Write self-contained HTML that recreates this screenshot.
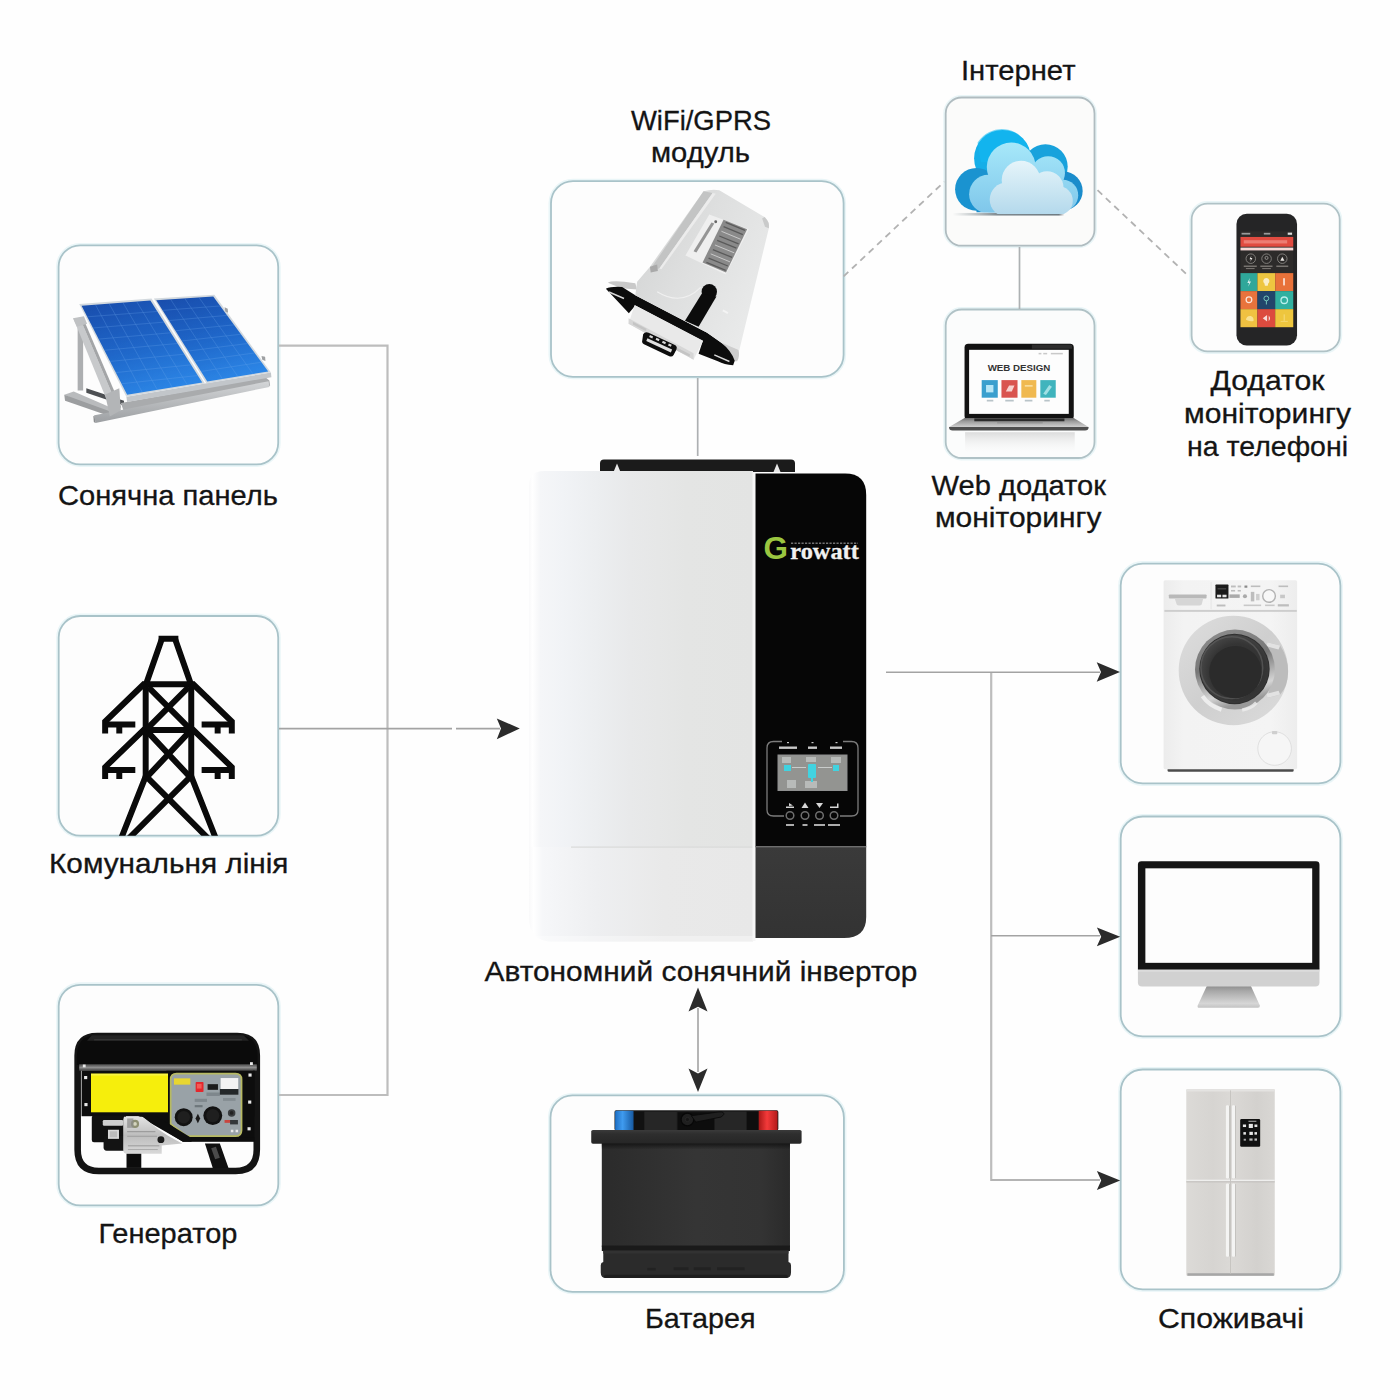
<!DOCTYPE html>
<html><head><meta charset="utf-8">
<style>
html,body{margin:0;padding:0;background:#fefefe;}
body{width:1400px;height:1400px;position:relative;overflow:hidden;font-family:"Liberation Sans",sans-serif;}
svg{position:absolute;left:0;top:0;}
.t{position:absolute;font-size:27px;line-height:33px;color:#111;text-align:center;white-space:nowrap;transform:translateX(-50%);letter-spacing:0.2px;}
</style></head><body>
<svg id="main" width="1400" height="1400" viewBox="0 0 1400 1400">
<defs>
</defs>
<!-- BOXES -->
<g id="boxglow" fill="none" stroke="#d9eff3" stroke-width="5" opacity="0.55">
<rect x="58.600" y="245.400" width="219.600" height="219" rx="21.500"/>
<rect x="58.700" y="616" width="219.500" height="219.600" rx="21.500"/>
<rect x="58.700" y="984.800" width="219.600" height="220.600" rx="21.500"/>
<rect x="551" y="181.200" width="292.600" height="195.600" rx="22"/>
<rect x="550.500" y="1095.400" width="293.400" height="196.400" rx="22"/>
<rect x="945.700" y="97.500" width="148.800" height="148.200" rx="16"/>
<rect x="945.700" y="309.500" width="148.800" height="148.500" rx="16"/>
<rect x="1191.600" y="203.600" width="148.100" height="147.800" rx="16"/>
<rect x="1120.700" y="563.600" width="219.700" height="219.800" rx="22"/>
<rect x="1120.700" y="816.500" width="219.700" height="219.800" rx="22"/>
<rect x="1120.700" y="1069.500" width="219.700" height="219.800" rx="22"/>
</g>
<g id="boxes" fill="#fdfdfd" stroke="#a9c3c9" stroke-width="1.800">
<rect x="58.600" y="245.400" width="219.600" height="219" rx="21.500"/>
<rect x="58.700" y="616" width="219.500" height="219.600" rx="21.500"/>
<rect x="58.700" y="984.800" width="219.600" height="220.600" rx="21.500"/>
<rect x="551" y="181.200" width="292.600" height="195.600" rx="22"/>
<rect x="550.500" y="1095.400" width="293.400" height="196.400" rx="22"/>
<rect x="945.700" y="97.500" width="148.800" height="148.200" rx="16" fill="#fbfbfa" stroke="#b0bcc0"/>
<rect x="945.700" y="309.500" width="148.800" height="148.500" rx="16" fill="#fbfcfc" stroke="#b0c2c6"/>
<rect x="1191.600" y="203.600" width="148.100" height="147.800" rx="16" stroke="#b0c2c6"/>
<rect x="1120.700" y="563.600" width="219.700" height="219.800" rx="22"/>
<rect x="1120.700" y="816.500" width="219.700" height="219.800" rx="22"/>
<rect x="1120.700" y="1069.500" width="219.700" height="219.800" rx="22"/>
</g>
<!-- LINES -->
<g id="lines" fill="none" stroke="#bdbdbd" stroke-width="2.200">
<path d="M279 345.700H387.500V1095H279"/>
<path d="M697.700 378V456" stroke="#adb0b2" stroke-width="1.700"/>
<path d="M1019.500 247V309" stroke="#adb1b3" stroke-width="1.700"/>
<path d="M991.200 672V1181"/>
</g>
<g id="lines2" fill="none" stroke="#a3a3a3" stroke-width="1.600">
<path d="M279 728.600H452 M456 728.600H500"/>
<path d="M886 672.300H1100"/>
<path d="M991 1180.100H1100" stroke="#b4b4b4" stroke-width="2"/>
<path d="M991 935.800H1100"/>
<path d="M698 1008V1072"/>
<path d="M843.600 276.400L944.300 181.700" stroke-dasharray="6.500 5" stroke="#b2b2b2" stroke-width="1.800"/>
<path d="M1097.500 190.200L1189.500 277" stroke-dasharray="6.500 5" stroke="#b2b2b2" stroke-width="1.800"/>
</g>
<g id="arrows" fill="#2b2b2b">
<path d="M519.800 728.600L496.800 718.400L501 728.600L496.800 739.200Z"/>
<path d="M1120 672.100L1096.700 662.200L1101 672.100L1096.700 681.700Z"/>
<path d="M1120.200 936.800L1096.900 927.600L1101.200 936.800L1096.900 946.200Z"/>
<path d="M1120.200 1180.400L1096.900 1171L1101.200 1180.400L1096.900 1190Z"/>
<path d="M698 987.500L688.500 1011.500L698 1006.800L707.500 1011.500Z"/>
<path d="M698 1092L688.500 1068.500L698 1073.400L707.500 1068.500Z"/>
</g>
<!-- ICONS-START -->
<g id="inverter">
<defs>
<linearGradient id="invW" x1="0" x2="1" y1="0" y2="0">
<stop offset="0" stop-color="#f9f9fa"/><stop offset="0.015" stop-color="#ffffff"/><stop offset="0.05" stop-color="#f5f6f8"/><stop offset="0.15" stop-color="#f1f3f6"/><stop offset="0.3" stop-color="#eceef0"/><stop offset="0.45" stop-color="#e8e9ea"/><stop offset="0.7" stop-color="#e4e5e4"/><stop offset="1" stop-color="#e3e4e3"/>
</linearGradient>
<linearGradient id="invW2" x1="0" x2="1" y1="0" y2="0">
<stop offset="0" stop-color="#f9f9fa"/><stop offset="0.02" stop-color="#ffffff"/><stop offset="0.06" stop-color="#f6f7f9"/><stop offset="0.3" stop-color="#eeeff1"/><stop offset="0.6" stop-color="#e9e9e9"/><stop offset="1" stop-color="#e8e8e8"/>
</linearGradient>
<linearGradient id="invG" x1="0" x2="0" y1="0" y2="1">
<stop offset="0" stop-color="#3a3a3a"/><stop offset="1" stop-color="#333"/>
</linearGradient>
<clipPath id="invWc"><path d="M544 471H753V941.500H553Q529 941.500 529 917.500V486Q529 471 544 471Z"/></clipPath>
</defs>
<!-- bracket -->
<path d="M604 459.500H791Q795 459.500 795 463.500V472H600V463.500Q600 459.500 604 459.500Z" fill="#1b1b1b"/>
<path d="M613.500 472L617 463.500L620.500 472Z M773.500 472L777 463.500L780.500 472Z" fill="#e9e9e9"/>
<!-- white body -->
<g clip-path="url(#invWc)">
<rect x="529" y="471" width="225" height="376" fill="url(#invW)"/>
<rect x="529" y="847" width="225" height="96" fill="url(#invW2)"/>
<rect x="571" y="846.500" width="182" height="1.200" fill="#d9dad9"/>
<rect x="529" y="936" width="225" height="6" fill="#fff" opacity="0.35"/>
</g>
<rect x="752.500" y="472" width="3" height="469" fill="#f6f6f6"/>
<!-- black panel -->
<path d="M755.500 473.500H845Q866.200 473.500 866.200 495V847H755.500Z" fill="#060606"/>
<path d="M755.500 847H866.200V917Q866.200 938 844 938H755.500Z" fill="url(#invG)"/>
<rect x="755.500" y="846" width="110.700" height="1.400" fill="#6d6d6d"/>
<!-- logo -->
<text x="763.600" y="558.800" font-family="Liberation Sans, sans-serif" font-weight="bold" font-size="31.500" fill="#9bc640" textLength="24.500" lengthAdjust="spacingAndGlyphs">G</text>
<text x="790.300" y="558.600" font-family="Liberation Serif, serif" font-weight="bold" font-size="23.500" fill="#f1f1f1" stroke="#f1f1f1" stroke-width="0.300" textLength="68.500" lengthAdjust="spacingAndGlyphs">rowatt</text>
<path d="M791 543.300H858" stroke="#8d8d8d" stroke-width="1.600" stroke-dasharray="2.200 1.300" opacity="0.8" fill="none"/>
<!-- LCD frame -->
<g fill="none" stroke="#7c7c7c" stroke-width="1.300">
<path d="M782 741.500H773.500Q767 741.500 767 748V810Q767 816 773.500 816H784"/>
<path d="M843 741.500H851.500Q858 741.500 858 748V810Q858 816 851.500 816H840"/>
</g>
<rect x="777.500" y="754.500" width="70" height="36.500" fill="#8f9090"/>
<rect x="778.500" y="755.500" width="68" height="34.500" fill="#939491"/>
<g fill="#c9cccb" opacity="0.7">
<rect x="782" y="757" width="9" height="6"/><rect x="806" y="757" width="10" height="5"/><rect x="831" y="757" width="10" height="6"/>
<rect x="787" y="780" width="9" height="8"/><rect x="805" y="781" width="12" height="7"/>
</g>
<g fill="#41d3e0">
<rect x="808" y="764" width="8" height="14" rx="1"/><rect x="784" y="765" width="7" height="6"/><rect x="833" y="765" width="6" height="6"/><rect x="811" y="778" width="2" height="4"/>
</g>
<rect x="792" y="767" width="14" height="1" fill="#c9cccb"/><rect x="818" y="767" width="14" height="1" fill="#c9cccb"/>
<!-- top labels -->
<g fill="#c8c8c8"><rect x="779" y="746.500" width="18" height="2.400"/><rect x="808" y="746.500" width="9" height="2.400"/><rect x="830" y="746.500" width="12" height="2.400"/>
<rect x="787" y="742" width="2" height="1.200"/><rect x="811.500" y="742" width="2" height="1.200"/><rect x="835.500" y="742" width="2" height="1.200"/></g>
<!-- buttons -->
<g fill="none" stroke="#6e6e6e" stroke-width="1.500">
<circle cx="790" cy="815.500" r="3.800"/><circle cx="805" cy="815.500" r="3.800"/><circle cx="819.500" cy="815.500" r="3.800"/><circle cx="834" cy="815.500" r="3.800"/>
</g>
<g fill="#d6d6d6">
<path d="M786 806.500H794V808H786Z M789 803L793 805.500L789 806Z"/>
<path d="M805 802.500L808.500 808H801.500Z"/>
<path d="M819.500 808L816 803H823Z"/>
<path d="M830 806.500H837V803.500H838.500V808H830Z"/>
<rect x="786" y="824" width="8" height="2" opacity="0.8"/><rect x="802.500" y="824" width="5" height="2" opacity="0.8"/><rect x="814" y="824" width="11" height="2" opacity="0.8"/><rect x="828" y="824" width="12" height="2" opacity="0.8"/>
</g>
</g>
<g id="pylon">
<defs><clipPath id="pyc"><rect x="59.500" y="617.500" width="218" height="218.300" rx="23"/></clipPath></defs>
<g clip-path="url(#pyc)">
<g transform="translate(58,616) scale(0.15714)" fill="none" stroke="#0a0a0a" stroke-width="38" stroke-linejoin="miter" stroke-linecap="butt">
<path d="M640 145H766"/>
<path d="M663 140L560 435 M743 140L846 435"/>
<path d="M540 435H866 M540 725H866"/>
<path d="M558 435V1035 M848 435V1035"/>
<path d="M575 452L840 718 M831 452L566 718"/>
<path d="M575 742L840 1025 M831 742L566 1025"/>
<path d="M558 1020L400 1420 M848 1020L1006 1420"/>
<path d="M566 1025L960 1420 M840 1025L446 1420"/>
<path d="M552 428L300 672V748 M854 428L1106 672V748"/>
<path d="M552 718L300 962V1038 M854 718L1106 962V1038"/>
<path d="M300 690H492 M390 690V748 M1106 690H914 M1016 690V748"/>
<path d="M300 980H492 M390 980V1038 M1106 980H914 M1016 980V1038"/>
</g></g></g>
<g id="battery" transform="translate(550,1095) scale(0.21143)">
<defs>
<linearGradient id="btB" x1="0" x2="1"><stop offset="0" stop-color="#2b2b2b"/><stop offset="0.5" stop-color="#353535"/><stop offset="0.85" stop-color="#333"/><stop offset="1" stop-color="#2a2a2a"/></linearGradient>
<linearGradient id="btBlue" x1="0" x2="1"><stop offset="0" stop-color="#1d6fc4"/><stop offset="0.4" stop-color="#3f9bef"/><stop offset="1" stop-color="#16589f"/></linearGradient>
<linearGradient id="btRed" x1="0" x2="1"><stop offset="0" stop-color="#a81616"/><stop offset="0.45" stop-color="#f33a3a"/><stop offset="1" stop-color="#b41a1a"/></linearGradient>
<linearGradient id="btLid" x1="0" x2="0" y1="0" y2="1"><stop offset="0" stop-color="#3b3b3b"/><stop offset="0.3" stop-color="#2e2e2e"/><stop offset="1" stop-color="#262626"/></linearGradient>
<linearGradient id="btSh" x1="0" x2="0" y1="0" y2="1"><stop offset="0" stop-color="#151515"/><stop offset="1" stop-color="#151515" stop-opacity="0"/></linearGradient>
</defs>
<rect x="305" y="72" width="775" height="96" rx="8" fill="#1c1c1c"/>
<rect x="400" y="80" width="200" height="88" fill="#262626"/><rect x="780" y="80" width="200" height="88" fill="#262626"/>
<rect x="308" y="74" width="88" height="94" rx="6" fill="url(#btBlue)"/>
<rect x="986" y="74" width="90" height="94" rx="6" fill="url(#btRed)"/>
<rect x="396" y="78" width="50" height="90" fill="#111"/><rect x="930" y="78" width="56" height="90" fill="#0e0e0e"/>
<rect x="604" y="82" width="172" height="86" fill="#0d0d0d"/>
<circle cx="650" cy="116" r="30" fill="#1f1f1f" stroke="#070707" stroke-width="6"/>
<circle cx="650" cy="116" r="10" fill="#161616" stroke="#2d2d2d" stroke-width="3"/>
<path d="M668 98L800 80Q825 78 822 92L810 104L690 128Z" fill="#1f1f1f" stroke="#090909" stroke-width="4"/>
<path d="M203 165H1182Q1190 165 1190 173V222Q1190 230 1182 230H203Q195 230 195 222V173Q195 165 203 165Z" fill="url(#btLid)"/>
<rect x="245" y="228" width="890" height="490" fill="url(#btB)"/>
<rect x="245" y="228" width="890" height="30" fill="url(#btSh)"/>
<rect x="245" y="712" width="890" height="26" fill="#1a1a1a"/>
<path d="M252 736H1128V790Q1140 792 1140 805V840Q1140 866 1115 866H265Q240 866 240 840V805Q240 792 252 790Z" fill="#2b2b2b"/>
<rect x="252" y="736" width="876" height="14" fill="#323232"/>
<rect x="255" y="850" width="870" height="16" rx="8" fill="#1e1e1e"/>
<g fill="#222"><rect x="460" y="818" width="40" height="12"/><rect x="585" y="815" width="70" height="14"/><rect x="680" y="815" width="80" height="14"/><rect x="790" y="815" width="130" height="14"/></g>
</g>
<g id="generator" transform="translate(58,1010) scale(0.15714)">
<defs>
<linearGradient id="gnS" x1="0" x2="0" y1="0" y2="1"><stop offset="0" stop-color="#4a4a4a"/><stop offset="0.5" stop-color="#8e8e8e"/><stop offset="1" stop-color="#3f3f3f"/></linearGradient>
<linearGradient id="gnE" x1="0" x2="0" y1="0" y2="1"><stop offset="0" stop-color="#e3e3e3"/><stop offset="0.5" stop-color="#bdbdbd"/><stop offset="1" stop-color="#d8d8d8"/></linearGradient>
</defs>
<!-- frame outer -->
<path d="M250 165H1140Q1265 165 1265 290V890Q1265 1025 1130 1025H260Q125 1025 125 890V290Q125 165 250 165Z" fill="none" stroke="#141414" stroke-width="42"/>
<!-- tank -->
<path d="M240 160H1150Q1270 160 1270 300V350H120V300Q120 160 240 160Z" fill="#0b0b0b"/>
<path d="M215 160H1180L1215 195H185Z" fill="#232323"/>
<rect x="230" y="186" width="940" height="7" fill="#3a3a3a"/>
<!-- silver bar -->
<rect x="135" y="345" width="1130" height="42" fill="url(#gnS)"/>
<!-- body black -->
<rect x="150" y="386" width="1100" height="290" fill="#0d0d0d"/>
<path d="M690 386H1250V835H830L690 690Z" fill="#0d0d0d"/>
<path d="M500 668H722V730L830 812H1250V838H795Z" fill="#0d0d0d"/>
<!-- yellow -->
<rect x="210" y="405" width="490" height="246" fill="#f6ee0c"/>
<rect x="210" y="405" width="490" height="12" fill="#fbf65a" opacity="0.7"/>
<!-- control panel -->
<path d="M755 405H1130Q1168 405 1168 443V765Q1168 803 1130 803H820L717 725V443Q717 405 755 405Z" fill="#99a2a7" stroke="#b7ba62" stroke-width="11"/>
<rect x="738" y="435" width="104" height="40" fill="#e8d630"/>
<rect x="876" y="458" width="50" height="64" rx="5" fill="#e5272c"/><rect x="884" y="470" width="30" height="30" fill="#f45a55"/>
<rect x="952" y="472" width="66" height="36" fill="#1c1c1c"/>
<rect x="945" y="525" width="85" height="22" fill="#7e878c"/>
<rect x="1035" y="433" width="112" height="70" fill="#f3f3f3"/><rect x="1030" y="503" width="118" height="36" fill="#24282a"/>
<rect x="1050" y="560" width="80" height="18" fill="#838c91"/>
<rect x="870" y="565" width="78" height="20" fill="#7f888d"/><rect x="870" y="605" width="50" height="14" fill="#6e777c"/>
<circle cx="800" cy="682" r="57" fill="#121212"/><circle cx="800" cy="682" r="40" fill="#1f1f1f"/>
<circle cx="985" cy="672" r="60" fill="#121212"/><circle cx="985" cy="672" r="42" fill="#1f1f1f"/>
<path d="M890 660L905 690L890 720L875 690Z" fill="#1a1a1a"/>
<circle cx="1105" cy="655" r="24" fill="#3a3d3f"/><circle cx="1105" cy="655" r="12" fill="#222"/>
<rect x="1060" y="700" width="40" height="18" fill="#c8453f"/><rect x="1095" y="700" width="50" height="28" fill="#33373a"/>
<rect x="1100" y="762" width="16" height="16" fill="#e8e8e8"/><rect x="1130" y="762" width="16" height="16" fill="#e8e8e8"/>
<!-- engine -->
<rect x="215" y="672" width="220" height="170" rx="14" fill="#111"/>
<rect x="290" y="800" width="150" height="95" rx="20" fill="#131313"/>
<rect x="285" y="700" width="130" height="36" rx="8" fill="#cfcfcf"/>
<rect x="318" y="762" width="70" height="58" fill="#d9d9d9"/><rect x="330" y="772" width="46" height="38" fill="#bcbcbc"/>
<path d="M420 680H540L640 760L700 800L790 850L660 862V915H440Q415 915 415 890V700Z" fill="url(#gnE)"/>
<rect x="440" y="770" width="180" height="8" fill="#9d9d9d"/><rect x="440" y="800" width="190" height="8" fill="#a5a5a5"/><rect x="445" y="860" width="200" height="8" fill="#a5a5a5"/><rect x="445" y="885" width="190" height="6" fill="#aaa"/>
<circle cx="655" cy="825" r="22" fill="#1b1b1b"/>
<circle cx="490" cy="725" r="26" fill="#8d8f72"/><circle cx="490" cy="725" r="12" fill="#d5d5c0"/>
<rect x="440" y="690" width="40" height="60" fill="#8a8a8a" opacity="0.7"/>
<path d="M520 668H612L850 815V838H795Z" fill="#0d0d0d"/>
<!-- feet -->
<rect x="436" y="915" width="94" height="90" fill="#0c0c0c"/>
<path d="M935 850H1030L1085 1005H985Z" fill="#101010"/>
<path d="M975 880L1005 870L1030 940L1000 950Z" fill="#4b4b4b"/>
<!-- bolts -->
<g fill="#e9e9e9"><rect x="166" y="420" width="20" height="20"/><rect x="168" y="592" width="20" height="20"/><rect x="1212" y="404" width="20" height="20"/><rect x="1210" y="576" width="20" height="20"/><rect x="1206" y="746" width="20" height="20"/><rect x="158" y="347" width="18" height="18"/><rect x="1222" y="332" width="18" height="18"/></g>
</g>
<g id="solar" transform="translate(58,275) scale(0.15714)">
<defs>
<linearGradient id="slB" x1="0.2" y1="0" x2="0.6" y2="1"><stop offset="0" stop-color="#1a4fae"/><stop offset="0.5" stop-color="#1f66c8"/><stop offset="1" stop-color="#2c86e6"/></linearGradient>
<linearGradient id="slR" x1="0" y1="0" x2="0" y2="1"><stop offset="0" stop-color="#d4d6d8"/><stop offset="1" stop-color="#9c9fa2"/></linearGradient>
<clipPath id="slc1"><path d="M150 195L588 162L918 684L440 762Z"/></clipPath>
<clipPath id="slc2"><path d="M625 160L988 137L1338 614L950 678Z"/></clipPath>
</defs>
<!-- base rails -->
<path d="M40 762L100 742L350 850L335 900Z" fill="#b9bbbd"/>
<path d="M40 762L45 800L335 900L338 870Z" fill="#9c9ea0"/>
<path d="M180 720L420 800L420 830L180 750Z" fill="#4d5053"/>
<path d="M400 815L1320 650L1345 672L1350 705L420 872Z" fill="#a9abad"/>
<path d="M232 893L1340 676L1346 712L238 942Z" fill="url(#slR)"/>
<path d="M232 893L238 942L228 935L225 900Z" fill="#8a8c8e"/>
<!-- left post and brace -->
<path d="M125 290H160V735H125Z" fill="#adafb1"/>
<path d="M100 282L138 270L385 852L345 880Z" fill="#c7c9cb"/>
<path d="M138 270L160 276L402 842L385 852Z" fill="#a3a5a7"/>
<path d="M95 275L165 262L185 310L120 330Z" fill="#bfc1c3"/>
<path d="M300 760L390 720L400 860L330 900Z" fill="#b3b5b7"/>
<!-- panel thickness -->
<path d="M435 775L935 690L1355 620L1358 650L945 722L440 808Z" fill="#c2c6ca"/>
<!-- panel frames -->
<path d="M135 185L595 150L935 690L435 775Z" fill="#d3d9de"/>
<path d="M610 150L995 125L1355 620L945 690Z" fill="#d3d9de"/>
<path d="M150 195L588 162L918 684L440 762Z" fill="url(#slB)"/>
<path d="M625 160L988 137L1338 614L950 678Z" fill="url(#slB)"/>
<g clip-path="url(#slc1)" stroke="#6fa9ee" stroke-width="3" opacity="0.55" fill="none">
<path d="M238 188L536 746 M325 182L632 730 M413 175L727 715 M500 168L823 700"/>
<path d="M186 266L630 232 M222 337L673 300 M258 408L716 368 M295 479L759 436 M331 550L802 504 M367 621L845 572 M404 692L888 640"/>
</g>
<g clip-path="url(#slc2)" stroke="#6fa9ee" stroke-width="3" opacity="0.55" fill="none">
<path d="M716 154L1047 662 M806 148L1144 646 M897 143L1241 630"/>
<path d="M666 225L1032 197 M706 290L1076 257 M747 355L1120 317 M788 420L1164 377 M828 484L1207 436 M869 549L1251 496 M909 614L1295 555"/>
</g>
<path d="M1060 205L1080 215L1082 240L1065 232Z M1295 515L1318 520L1320 548L1300 540Z" fill="#9ea0a2"/>
</g>
<g id="wifi" transform="translate(590,181) scale(0.142857)">
<defs>
<linearGradient id="wfB" x1="0" y1="0" x2="1" y2="0.6"><stop offset="0" stop-color="#d0d1d1"/><stop offset="0.5" stop-color="#dedfdf"/><stop offset="1" stop-color="#e9eaea"/></linearGradient>
</defs>
<!-- rim gray -->
<path d="M125 712Q160 690 317 716L330 760L220 750Z" fill="#c9c9c9"/>
<path d="M917 1120L1040 1180Q1050 1230 1030 1262L1005 1262Z" fill="#cdcdcd"/>
<!-- black flange -->
<path d="M111 754Q150 736 225 742L317 800L820 1062L917 1130Q990 1188 1013 1258L1002 1289Q940 1287 895 1262L760 1210L790 1120L317 872L272 925Z" fill="#0c0c0c"/>
<path d="M135 772L240 818L236 828L131 782Z M872 1212L978 1258L974 1268L868 1222Z" fill="#d8d8d8"/>
<!-- body -->
<path d="M795 72Q850 55 905 64L1222 252Q1260 290 1252 330L1045 1185L917 1130L820 1062L317 800L330 705L420 600Z" fill="url(#wfB)"/>
<path d="M795 72L858 84L485 612L420 622Z" fill="#c3c4c4"/>
<path d="M858 84L880 90L500 618L485 612Z" fill="#ececec"/>
<path d="M420 600L470 585L475 630L425 640Z" fill="#a9a9a9"/>
<path d="M1222 252Q1260 290 1252 330L1225 320L1205 262Z" fill="#c9caca"/>
<!-- label -->
<path d="M835 235L1112 338L950 655L668 522Z" fill="#efefef"/>
<path d="M935 272L1100 338L952 640L788 570Z" fill="#8a8a8a"/>
<g stroke="#5a5a5a" stroke-width="9" fill="none"><path d="M950 290L1085 345 M935 320L1070 375 M905 385L1040 440 M890 415L1025 470 M860 480L995 535 M830 540L965 595 M815 570L950 625"/></g>
<g stroke="#c9c9c9" stroke-width="7" fill="none"><path d="M920 352L1055 408 M875 448L1010 503 M845 510L980 566"/></g>
<path d="M850 290L870 297L745 500L725 492Z" fill="#777" opacity="0.75"/>
<circle cx="880" cy="285" r="10" fill="#666"/>
<!-- arc detail -->
<path d="M470 775Q640 880 775 745" fill="none" stroke="#f0f0f0" stroke-width="8"/>
<path d="M930 905L965 925" stroke="#f4f4f4" stroke-width="14" fill="none"/>
<!-- antenna -->
<circle cx="835" cy="775" r="54" fill="#0c0c0c"/>
<path d="M782 790L885 808L760 1020L665 978Z" fill="#0c0c0c"/>
<!-- connector block -->
<path d="M312 868L792 1118L725 1252L270 1000Z" fill="#e9e9e9"/>
<path d="M270 960L725 1205L725 1252L270 1000Z" fill="#d6d6d6"/>
<path d="M300 985L395 1035L392 1052L300 1004Z M610 1168L700 1213L697 1230L607 1186Z" fill="#c4c4c4"/>
<!-- usb -->
<path d="M372 1072Q385 1052 410 1062L598 1150Q613 1160 606 1177L585 1218Q575 1234 555 1226L378 1142Q360 1132 366 1114Z" fill="#0d0d0d"/>
<path d="M402 1100L575 1180L566 1200L394 1120Z" fill="#e0e0e0"/>
<path d="M420 1078L442 1088L436 1102L414 1092Z M465 1098L487 1108L481 1122L459 1112Z M510 1118L532 1128L526 1142L504 1132Z M552 1138L572 1147L566 1161L546 1152Z" fill="#d8d8d8"/>
</g>
<g id="cloud" transform="translate(945,97) scale(0.10857)">
<defs>
<linearGradient id="clA" x1="0" y1="0" x2="0" y2="1" gradientUnits="userSpaceOnUse" ><stop offset="0.22" stop-color="#0fbdf4"/><stop offset="0.5" stop-color="#1aa0da"/><stop offset="0.78" stop-color="#1788c8"/></linearGradient>
<linearGradient id="clB" x1="0" y1="400" x2="0" y2="1080" gradientUnits="userSpaceOnUse"><stop offset="0" stop-color="#a8e9fa"/><stop offset="1" stop-color="#7ec6ea"/></linearGradient>
<linearGradient id="clC" x1="0" y1="580" x2="0" y2="1080" gradientUnits="userSpaceOnUse"><stop offset="0" stop-color="#e6f5fa"/><stop offset="1" stop-color="#b4d9ec"/></linearGradient>
<linearGradient id="clS" x1="0" x2="1"><stop offset="0" stop-color="#8c979c" stop-opacity="0"/><stop offset="0.4" stop-color="#7f8a90"/><stop offset="0.95" stop-color="#6f7b82"/><stop offset="1" stop-color="#6f7b82" stop-opacity="0"/></linearGradient>
<clipPath id="clcp"><rect x="0" y="0" width="1400" height="1062"/></clipPath>
<clipPath id="clcp2"><rect x="0" y="0" width="1400" height="1078"/></clipPath>
</defs>
<rect x="70" y="1068" width="1030" height="24" fill="url(#clS)"/>
<g clip-path="url(#clcp)" fill="#1a9bd6">
<g fill="url(#clA)" style="--a:1">
<circle cx="530" cy="565" r="262" fill="#14aee8"/>
<circle cx="290" cy="850" r="197" fill="#1a93d0"/>
<circle cx="925" cy="640" r="205" fill="#18a2dc"/>
<circle cx="1090" cy="865" r="178" fill="#1a8ccb"/>
<rect x="290" y="800" width="800" height="300" fill="#1a8fce"/>
</g>
<path d="M300 420A262 262 0 0 1 770 470L700 600L330 600Z" fill="#10baf2" opacity="0.55"/>
</g>
<g clip-path="url(#clcp)" fill="url(#clB)">
<circle cx="610" cy="645" r="225"/><circle cx="400" cy="895" r="178"/><circle cx="950" cy="700" r="155"/><circle cx="1085" cy="905" r="142"/><rect x="400" y="850" width="690" height="230"/>
</g>
<g clip-path="url(#clcp2)" fill="url(#clC)">
<circle cx="700" cy="765" r="178"/><circle cx="570" cy="945" r="158"/><circle cx="940" cy="835" r="152"/><circle cx="1045" cy="955" r="132"/><rect x="570" y="900" width="480" height="200"/>
</g>
</g>
<g id="laptop" transform="translate(945,309) scale(0.10857)">
<defs>
<linearGradient id="lpB" x1="0" y1="0" x2="0" y2="1"><stop offset="0" stop-color="#6e6e6e"/><stop offset="0.35" stop-color="#9c9c9c"/><stop offset="1" stop-color="#cfcfcf"/></linearGradient>
<linearGradient id="lpR" x1="0" y1="0" x2="0" y2="1"><stop offset="0" stop-color="#dcdcdc"/><stop offset="1" stop-color="#f6f6f6" stop-opacity="0"/></linearGradient>
</defs>
<rect x="185" y="1135" width="1010" height="190" fill="url(#lpR)"/>
<rect x="180" y="320" width="1006" height="700" rx="34" fill="#121212"/>
<rect x="800" y="328" width="370" height="38" fill="#2c2c2c"/>
<rect x="222" y="376" width="918" height="590" fill="#fdfdfd"/>
<text x="393" y="568" font-family="Liberation Sans, sans-serif" font-weight="bold" font-size="86" fill="#333" textLength="578" lengthAdjust="spacingAndGlyphs">WEB DESIGN</text>
<g fill="#c9c9c9"><rect x="862" y="404" width="26" height="14"/><rect x="905" y="404" width="36" height="14"/><rect x="975" y="404" width="110" height="14"/></g>
<rect x="338" y="655" width="148" height="162" fill="#3a9fce"/><rect x="378" y="700" width="68" height="68" fill="#b7e6f6"/>
<rect x="520" y="655" width="148" height="162" fill="#d9544f"/><path d="M560 760L590 705H640L615 760Z" fill="#f7d2cf"/>
<rect x="703" y="655" width="138" height="162" fill="#f0b950"/><rect x="735" y="700" width="72" height="16" fill="#f9dc9a"/>
<rect x="878" y="655" width="142" height="162" fill="#40b4bd"/><path d="M905 780L960 700L985 715L930 792Z" fill="#9fe0e4"/>
<g fill="#b9c4c9"><rect x="385" y="836" width="60" height="16"/><rect x="555" y="836" width="78" height="16"/><rect x="735" y="836" width="70" height="16"/><rect x="915" y="836" width="50" height="16"/></g>
<path d="M180 1005H1186L1322 1088H38Z" fill="url(#lpB)"/>
<rect x="270" y="1008" width="830" height="26" fill="#2b2b2b"/>
<path d="M38 1088H1322Q1326 1116 1290 1118H70Q34 1116 38 1088Z" fill="#4f4f4f"/>
<rect x="480" y="1040" width="420" height="14" fill="#888" opacity="0.6"/>
</g>
<g id="phone" transform="translate(1190,202) scale(0.10857)">
<rect x="428" y="108" width="558" height="1214" rx="95" fill="#252526"/>
<rect x="465" y="270" width="486" height="890" fill="#2d2b2a"/>
<g fill="#9a9a9a"><rect x="475" y="284" width="80" height="16"/><rect x="680" y="284" width="60" height="16"/><rect x="900" y="282" width="40" height="20" fill="#ddd"/></g>
<rect x="465" y="322" width="486" height="90" fill="#e14b40"/>
<rect x="495" y="352" width="400" height="30" fill="#f08a80" opacity="0.8"/>
<rect x="465" y="420" width="486" height="26" fill="#f7d9d6"/>
<g fill="none" stroke="#8b8885" stroke-width="8"><circle cx="560" cy="522" r="44"/><circle cx="705" cy="522" r="44"/><circle cx="850" cy="522" r="44"/></g>
<g fill="#e9e6e2"><path d="M565 495L548 528H562L555 552L575 516H561Z"/><circle cx="705" cy="515" r="14" fill="none" stroke="#bdbab6" stroke-width="6"/><path d="M832 540L850 505L870 540Z"/></g>
<g fill="#77736f"><rect x="495" y="585" width="120" height="14"/><rect x="648" y="585" width="112" height="14"/><rect x="795" y="585" width="110" height="14"/><rect x="515" y="608" width="80" height="10"/><rect x="665" y="608" width="80" height="10"/></g>
<rect x="465" y="655" width="156" height="166" fill="#2fa79a"/><rect x="621" y="655" width="164" height="166" fill="#eec640"/><rect x="785" y="655" width="166" height="166" fill="#e8723a"/>
<rect x="465" y="821" width="156" height="166" fill="#e8733c"/><rect x="621" y="821" width="164" height="166" fill="#22456b"/><rect x="785" y="821" width="166" height="166" fill="#31b0a0"/>
<rect x="465" y="987" width="156" height="166" fill="#f0c141"/><rect x="621" y="987" width="164" height="166" fill="#dc4b3e"/><rect x="785" y="987" width="166" height="166" fill="#eec63e"/>
<g fill="#fff" opacity="0.8">
<path d="M550 700L528 745H545L535 780L562 732H545Z"/>
<path d="M703 700A28 28 0 0 1 720 750L716 772H690L686 750A28 28 0 0 1 703 700Z" opacity="0.9"/>
<rect x="858" y="700" width="16" height="70" rx="8"/>
<circle cx="543" cy="900" r="26" fill="none" stroke="#fff" stroke-width="12"/>
<circle cx="703" cy="888" r="22" fill="none" stroke="#9fd" stroke-width="8"/><rect x="699" y="910" width="8" height="34" fill="#9fd"/>
<circle cx="868" cy="905" r="30" fill="none" stroke="#dff" stroke-width="12"/>
<path d="M515 1085Q520 1045 560 1050Q590 1060 585 1095Q550 1105 515 1085Z" fill="#fbe9a8"/>
<path d="M670 1070L710 1040V1100Z M725 1045Q750 1070 725 1098Z"/>
<rect x="862" y="1035" width="12" height="60" fill="#f6dc7a"/><rect x="835" y="1095" width="66" height="10" fill="#f6dc7a"/>
</g>
</g>
<g id="washer" transform="translate(1120,563) scale(0.15857)">
<defs>
<linearGradient id="wsB" x1="0" x2="1"><stop offset="0" stop-color="#ececec"/><stop offset="0.15" stop-color="#f3f3f3"/><stop offset="0.8" stop-color="#f4f4f4"/><stop offset="1" stop-color="#ededed"/></linearGradient>
<linearGradient id="wsR" x1="0" y1="0" x2="1" y2="1"><stop offset="0" stop-color="#dedede"/><stop offset="0.5" stop-color="#cfcfcf"/><stop offset="1" stop-color="#dcdcdc"/></linearGradient>
<linearGradient id="wsC" x1="0" y1="0" x2="0.3" y2="1"><stop offset="0" stop-color="#8f8f8f"/><stop offset="0.5" stop-color="#777"/><stop offset="0.85" stop-color="#d5d5d5"/><stop offset="1" stop-color="#999"/></linearGradient>
<radialGradient id="wsG" cx="0.55" cy="0.55" r="0.6"><stop offset="0" stop-color="#2a2a2a"/><stop offset="0.7" stop-color="#353535"/><stop offset="1" stop-color="#4a4a4a"/></radialGradient>
</defs>
<rect x="300" y="1290" width="795" height="26" rx="8" fill="#4c4c4c"/>
<rect x="275" y="108" width="842" height="1192" rx="10" fill="url(#wsB)"/>
<rect x="280" y="296" width="835" height="12" fill="#cdcdcd"/>
<rect x="572" y="120" width="5" height="172" fill="#e2e2e2"/>
<rect x="308" y="198" width="238" height="26" rx="6" fill="#b9b9b9"/>
<path d="M345 224H525L515 262Q510 268 500 268H372Q362 268 358 262Z" fill="#d6d6d6"/>
<rect x="602" y="136" width="82" height="88" rx="4" fill="#1b1b1b"/>
<g fill="#e4e4e4"><rect x="612" y="200" width="26" height="16"/><rect x="646" y="200" width="26" height="16"/><rect x="615" y="160" width="55" height="6" fill="#555"/></g>
<g fill="#bdbdbd"><rect x="700" y="142" width="30" height="12"/><rect x="742" y="142" width="22" height="12"/><rect x="785" y="142" width="18" height="14" fill="#8a8a8a"/><rect x="825" y="142" width="60" height="10"/><rect x="1000" y="142" width="60" height="10"/>
<rect x="700" y="170" width="26" height="10"/><rect x="742" y="170" width="20" height="10"/><rect x="690" y="198" width="65" height="22" fill="#a9a9a9"/><circle cx="788" cy="210" r="13" fill="#aaa"/>
<rect x="825" y="182" width="22" height="60"/><rect x="858" y="195" width="22" height="40" opacity="0.7"/><rect x="1010" y="200" width="30" height="22" opacity="0.8"/><rect x="610" y="262" width="55" height="12"/><rect x="780" y="262" width="110" height="10" opacity="0.8"/><rect x="915" y="262" width="60" height="10" opacity="0.8"/><rect x="995" y="260" width="70" height="14"/></g>
<circle cx="940" cy="208" r="40" fill="#f8f8f8" stroke="#b3b3b3" stroke-width="9"/>
<!-- door -->
<circle cx="715" cy="678" r="345" fill="url(#wsR)"/>
<path d="M930 500L1010 520Q1062 600 1060 690Q1058 780 1010 830L930 850Q975 680 930 500Z" fill="#bcbcbc"/>
<path d="M930 500L1010 520L1000 545L925 525Z M930 850L1010 830L1000 805L925 825Z" fill="#e2e2e2"/>
<circle cx="725" cy="672" r="252" fill="url(#wsC)"/>
<circle cx="722" cy="668" r="222" fill="#2f2f2f"/>
<circle cx="722" cy="668" r="215" fill="url(#wsG)"/>
<circle cx="705" cy="660" r="195" fill="none" stroke="#5d5d5d" stroke-width="10" opacity="0.7"/>
<circle cx="728" cy="688" r="165" fill="#2b2b2b"/>
<path d="M520 840Q560 900 640 925" stroke="#f2f2f2" stroke-width="26" fill="none" opacity="0.85"/>
<path d="M770 928Q830 915 860 880" stroke="#ededed" stroke-width="22" fill="none" opacity="0.8"/>
<circle cx="975" cy="1170" r="106" fill="#f6f6f6" stroke="#d9d9d9" stroke-width="5"/>
<rect x="958" y="1060" width="34" height="20" rx="6" fill="#cfcfcf"/>
</g>
<g id="monitor" transform="translate(1120,816) scale(0.15857)">
<defs>
<linearGradient id="mnS" x1="0" y1="0" x2="0" y2="1"><stop offset="0" stop-color="#8d8d8d"/><stop offset="0.25" stop-color="#a9a9a9"/><stop offset="0.8" stop-color="#d6d6d6"/><stop offset="1" stop-color="#c2c2c2"/></linearGradient>
</defs>
<path d="M548 1070H825L882 1195Q884 1210 870 1210H500Q486 1210 490 1195Z" fill="url(#mnS)"/>
<path d="M113 960H1258V1050Q1258 1076 1232 1076H139Q113 1076 113 1050Z" fill="#d1d1d1"/>
<rect x="113" y="968" width="1145" height="14" fill="#dcdcdc"/>
<path d="M135 285H1236Q1258 285 1258 307V968H113V307Q113 285 135 285Z" fill="#151515"/>
<rect x="160" y="330" width="1052" height="596" fill="#fdfdfd"/>
</g>
<g id="fridge" transform="translate(1120,1069) scale(0.15857)">
<defs>
<linearGradient id="frB" x1="0" x2="1"><stop offset="0" stop-color="#dcdad7"/><stop offset="0.3" stop-color="#d6d4d1"/><stop offset="0.5" stop-color="#dbd9d6"/><stop offset="0.8" stop-color="#d3d1ce"/><stop offset="1" stop-color="#d9d7d4"/></linearGradient>
</defs>
<rect x="418" y="128" width="558" height="1176" rx="6" fill="url(#frB)"/>
<rect x="418" y="128" width="558" height="14" fill="#e4e3e1"/>
<rect x="425" y="1288" width="545" height="16" fill="#a6a6a6"/>
<rect x="418" y="698" width="558" height="10" fill="#efefee"/><rect x="418" y="708" width="558" height="7" fill="#c2c0bd"/>
<rect x="694" y="135" width="6" height="1155" fill="#c6c4c1"/>
<rect x="668" y="228" width="20" height="462" rx="8" fill="#f4f4f3"/><rect x="688" y="232" width="5" height="456" fill="#bebcb9"/>
<rect x="706" y="228" width="20" height="462" rx="8" fill="#f4f4f3"/><rect x="726" y="232" width="5" height="456" fill="#bebcb9"/>
<rect x="668" y="722" width="20" height="462" rx="8" fill="#f4f4f3"/><rect x="688" y="726" width="5" height="456" fill="#bebcb9"/>
<rect x="706" y="722" width="20" height="462" rx="8" fill="#f4f4f3"/><rect x="726" y="726" width="5" height="456" fill="#bebcb9"/>
<rect x="758" y="316" width="126" height="174" rx="8" fill="#111"/>
<g fill="#e6e6e6"><rect x="775" y="350" width="20" height="16"/><rect x="812" y="346" width="26" height="26"/><rect x="848" y="350" width="18" height="16"/><rect x="778" y="398" width="16" height="16"/><rect x="816" y="396" width="22" height="20"/><rect x="848" y="398" width="16" height="16"/><rect x="780" y="440" width="14" height="12" opacity="0.7"/><rect x="816" y="438" width="20" height="14" opacity="0.8"/><rect x="848" y="438" width="16" height="14" opacity="0.8"/><rect x="810" y="326" width="50" height="8" opacity="0.6"/></g>
</g>
<!-- ICONS-END -->
<g id="labels" font-family="Liberation Sans, sans-serif" fill="#141414" stroke="#141414" stroke-width="0.300">
<text x="58.0" y="504.9" font-size="28" textLength="220.0" lengthAdjust="spacingAndGlyphs">Сонячна панель</text>
<text x="49.0" y="872.9" font-size="28" textLength="239.5" lengthAdjust="spacingAndGlyphs">Комунальня лінія</text>
<text x="98.5" y="1242.5" font-size="28" textLength="139.0" lengthAdjust="spacingAndGlyphs">Генератор</text>
<text x="631.0" y="129.6" font-size="28" textLength="140.0" lengthAdjust="spacingAndGlyphs">WiFi/GPRS</text>
<text x="651.0" y="161.9" font-size="28" textLength="99.0" lengthAdjust="spacingAndGlyphs">модуль</text>
<text x="961.0" y="79.6" font-size="28" textLength="114.5" lengthAdjust="spacingAndGlyphs">Інтернет</text>
<text x="931.5" y="494.6" font-size="28" textLength="174.5" lengthAdjust="spacingAndGlyphs">Web додаток</text>
<text x="935.0" y="527.3" font-size="28" textLength="166.5" lengthAdjust="spacingAndGlyphs">моніторингу</text>
<text x="1210.5" y="389.9" font-size="28" textLength="114.0" lengthAdjust="spacingAndGlyphs">Додаток</text>
<text x="1184.0" y="422.6" font-size="28" textLength="167.0" lengthAdjust="spacingAndGlyphs">моніторингу</text>
<text x="1187.0" y="455.6" font-size="28" textLength="161.0" lengthAdjust="spacingAndGlyphs">на телефоні</text>
<text x="484.5" y="981.0" font-size="28" textLength="433.0" lengthAdjust="spacingAndGlyphs">Автономний сонячний інвертор</text>
<text x="645.0" y="1328.3" font-size="28" textLength="110.5" lengthAdjust="spacingAndGlyphs">Батарея</text>
<text x="1158.0" y="1328.3" font-size="28" textLength="146.0" lengthAdjust="spacingAndGlyphs">Споживачі</text>
</g>
</svg>
</body></html>
